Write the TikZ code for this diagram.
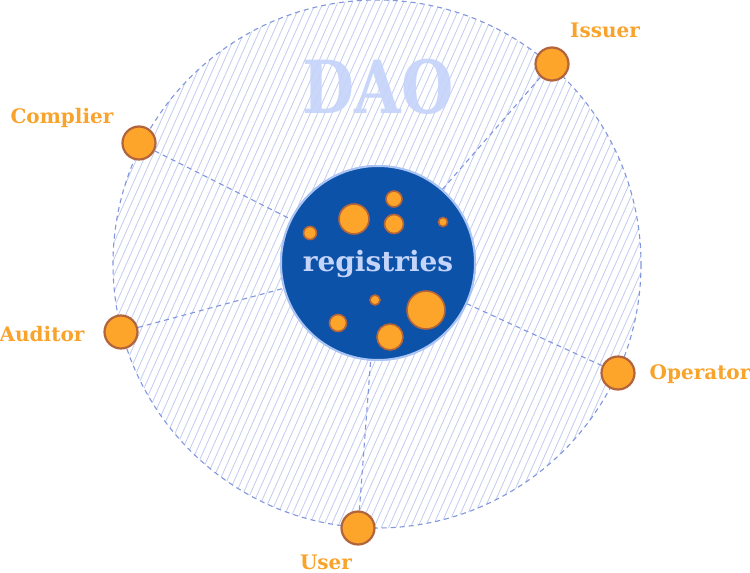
\documentclass[tikz,border=0pt]{standalone}
\usepackage{fontspec}
\setmainfont{DejaVu Serif}
\usepackage{graphicx}
\usetikzlibrary{positioning}
\definecolor{regblue}{RGB}{12, 82, 168}
\definecolor{regborder}{RGB}{170, 195, 245}
\definecolor{lighttext}{RGB}{197, 212, 250}
\definecolor{dotorange}{RGB}{252, 165, 42}
\definecolor{dotborder}{RGB}{178, 100, 60}
\definecolor{labelorange}{RGB}{248, 163, 44}
\definecolor{hatchcolor}{RGB}{192, 204, 240}
\definecolor{dashcolor}{RGB}{130, 150, 220}
\tikzset{
    % Circles
    regnode/.style={
        circle, draw=regborder, line width=2pt, fill=regblue,
        minimum size=194pt, inner sep=0pt
    },
    dotnode/.style={circle, draw=dotborder, line width=1.6pt, fill=dotorange, inner sep=0pt},
    actornode/.style={dotnode, line width=2.2pt, minimum size=33pt},
    % Lines
    hatchline/.style={hatchcolor, line width=0.8pt},
    dashline/.style={dashcolor, line width=1.1pt, dash pattern=on 5pt off 4pt},
    % Labels
    actorlabel/.style={font=\fontsize{20}{20}\selectfont\bfseries, text=labelorange, inner sep=0pt},
}
\begin{document}
\begin{tikzpicture}[x=1pt, y=-1pt]
\useasboundingbox (0,0) rectangle (750,573);

% ===== DAO area =====
\coordinate (daocenter) at (377,264);
\begin{scope}
    \clip (daocenter) circle (264);
    \foreach \x in {-320,-312.7,...,820} {
        \draw[hatchline] (\x,545) -- ++(245,-550);
    }
\end{scope}
\draw[dashline] (daocenter) circle (264);

\node (dao) [font=\fontsize{60}{60}\selectfont\bfseries, text=lighttext, opacity=0.92, inner sep=0pt]
    at (378,87) {\scalebox{1}[1.22]{DAO}};

% ===== Actors =====
\node (issuer)   [actornode] at (552,64)  {};
\node (complier) [actornode] at (139,143) {};
\node (auditor)  [actornode] at (121,332) {};
\node (user)     [actornode] at (358,528) {};
\node (operator) [actornode] at (618,373) {};

% Registries
\node (reg) [regnode] at (378,263) {};

\draw[dashline] (issuer) -- (reg);
\draw[dashline] (complier) -- (reg);
\draw[dashline] (auditor) -- (reg);
\draw[dashline] (user) -- (reg);
\draw[dashline] (operator) -- (reg);

\node (reg) [regnode] at (378,263) {};

% Records inside the registry
\foreach \px/\py/\r [count=\i] in {354/219/15, 394/199/8, 394/224/9.5, 443/222/4.5, 310/233/6.5,
                                   375/300/5, 426/310/19, 338/323/8.5, 390/337/13} {
    \node (rec\i) [dotnode, minimum size=2*\r pt] at (\px,\py) {};
}

\node (reglabel) [font=\fontsize{28}{28}\selectfont\bfseries, text=lighttext, inner sep=0pt] at (378,264) {registries};

% ===== Labels =====
\node (issuerlbl)   [actorlabel] at (605,30)  {Issuer};
\node (complierlbl) [actorlabel] at (62,118)  {Complier};
\node (auditorlbl)  [actorlabel] at (42,334)  {Auditor};
\node (userlbl)     [actorlabel] at (326,562) {User};
\node (operatorlbl) [actorlabel] at (700,374) {Operator};

\end{tikzpicture}
\end{document}
